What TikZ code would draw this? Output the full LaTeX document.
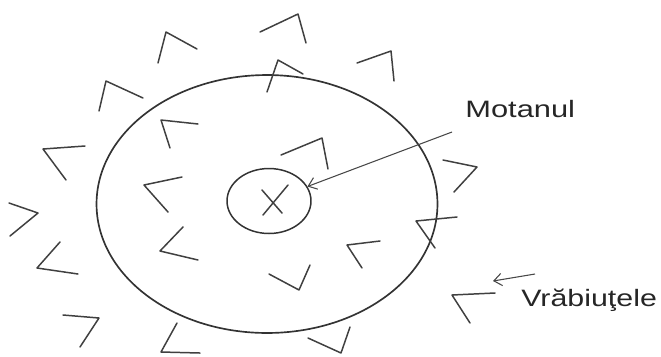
\documentclass[tikz,border=0pt]{standalone}
\usepackage{fontspec}
\setmainfont{Liberation Sans}
\usepackage{graphicx}
\usetikzlibrary{shapes.geometric, arrows.meta, positioning}

\begin{document}
\begin{tikzpicture}[
  x=0.02cm, y=-0.02cm,
  yard/.style={ellipse, draw=black!80, line width=0.95pt, inner sep=0pt, minimum width=6.82cm, minimum height=5.16cm},
  cat/.style={ellipse, draw=black!80, line width=0.85pt, inner sep=0pt, minimum width=1.68cm, minimum height=1.3cm},
  bird/.style={draw=black!75, line width=0.85pt, line cap=round, line join=round},
  arr/.style={draw=black!72, line width=0.6pt, -{Straight Barb[length=4.5pt, width=7pt]}},
  lbl/.style={font=\fontsize{13.5}{16}\selectfont, text=black!85, inner sep=0pt, anchor=base west}
]
\useasboundingbox (0,0) rectangle (661,356);

% curtea si motanul
\node[yard] (curte) at (267,204) {};
\node[cat] (motan) at (269,201) {};
\draw[bird] (288,185) -- (263,215);
\draw[bird] (262,190) -- (282,213);

% vrabiutele (in afara)
\draw[bird] (158,63) -- (166,32) -- (197,49);
\draw[bird] (99,111) -- (106,81) -- (143,98);
\draw[bird] (85,146) -- (43,149) -- (66,180);
\draw[bird] (260,32) -- (298,14) -- (306,43);
\draw[bird] (267,92) -- (278,60) -- (303,74);
\draw[bird] (357,63) -- (391,51) -- (394,81);
\draw[bird] (443,160) -- (477,167) -- (454,192);
\draw[bird] (9,203) -- (38,213) -- (10,236);
\draw[bird] (60,242) -- (37,268) -- (78,274);
\draw[bird] (63,315) -- (99,318) -- (80,347);
\draw[bird] (177,323) -- (161,352) -- (200,353);
\draw[bird] (308,338) -- (341,353) -- (350,327);
\draw[bird] (457,217) -- (416,221) -- (435,248);
\draw[bird] (495,293) -- (452,295) -- (470,323);

% vrabiutele (in curte)
\draw[bird] (198,124) -- (161,120) -- (170,148);
\draw[bird] (281,155) -- (322,138) -- (328,169);
\draw[bird] (182,177) -- (144,185) -- (168,212);
\draw[bird] (183,227) -- (160,251) -- (198,260);
\draw[bird] (380,241) -- (347,245) -- (362,268);
\draw[bird] (269,274) -- (299,290) -- (310,265);

% etichete
\node[lbl] (motanul) at (465,117) {\scalebox{1.3}[1]{Motanul}};
\node[lbl] (vrabiute) at (521,306) {\scalebox{1.28}[1]{Vrăbiuţele}};

\coordinate (mstart) at (452,132);
\draw[arr] (mstart) -- (motan);
\coordinate (vstart) at (535,274);
\coordinate (vend) at (493,281);
\draw[arr] (vstart) -- (vend);
\end{tikzpicture}
\end{document}
